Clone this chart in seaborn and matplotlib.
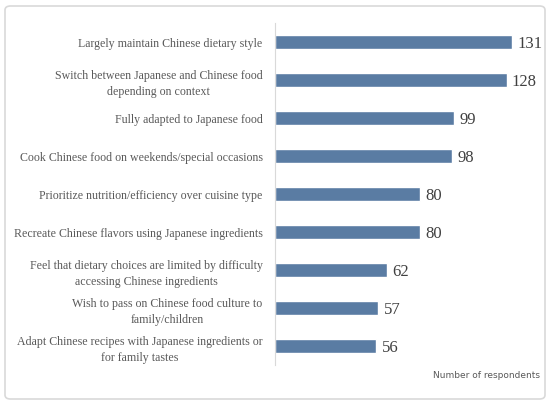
import matplotlib
matplotlib.use("Agg")
import matplotlib.pyplot as plt
from matplotlib.patches import FancyBboxPatch
import seaborn as sns
import pandas as pd

categories = [
    "Largely maintain Chinese dietary style",
    "Switch between Japanese and Chinese food\ndepending on context",
    "Fully adapted to Japanese food",
    "Cook Chinese food on weekends/special occasions",
    "Prioritize nutrition/efficiency over cuisine type",
    "Recreate Chinese flavors using Japanese ingredients",
    "Feel that dietary choices are limited by difficulty\naccessing Chinese ingredients",
    "Wish to pass on Chinese food culture to\nfamily/children",
    "Adapt Chinese recipes with Japanese ingredients or\nfor family tastes",
]
respondents = [131, 128, 99, 98, 80, 80, 62, 57, 56]
x_label = "Number of respondents"

df = pd.DataFrame({"category": categories, "count": respondents})

sns.set_theme(style="white")
plt.rcParams["font.family"] = ["Liberation Serif", "DejaVu Serif"]

fig = plt.figure(figsize=(5.5, 4.04), dpi=100)
ax = fig.add_axes([275 / 550, 1 - 365 / 404, 265 / 550, 342 / 404])

bar_color = "#5a7ca3"
sns.barplot(data=df, x="count", y="category", color=bar_color, width=0.37,
            saturation=1, ax=ax)

ax.set_xlim(0, 146.5)
ax.set_ylim(8.5, -0.5)
ax.set_xticks([])
ax.set_xlabel("")
ax.set_ylabel("")
for side in ["top", "right", "bottom"]:
    ax.spines[side].set_visible(False)
ax.spines["left"].set_color("#d9d9d9")
ax.spines["left"].set_linewidth(0.8)

ax.set_yticks(range(len(categories)))
ax.set_yticklabels(categories, fontsize=8.6, color="#595959",
                   multialignment="center", linespacing=1.45)
ax.tick_params(axis="y", length=0, pad=9)

for i, v in enumerate(respondents):
    ax.text(v + 3, i + 0.05, str(v), va="center", ha="left", fontsize=12, color="#404040")

fig.text(540 / 550, 1 - 375 / 404, x_label, ha="right", va="center",
         fontsize=6.5, color="#595959", family=["DejaVu Sans"])

frame = FancyBboxPatch((5 / 550, 5 / 404), 540 / 550, 393 / 404,
                       boxstyle="round,pad=0,rounding_size=0.01",
                       transform=fig.transFigure, fill=False,
                       edgecolor="#d9d9d9", linewidth=1.2)
fig.patches.append(frame)

fig.savefig("out.png", dpi=100)
